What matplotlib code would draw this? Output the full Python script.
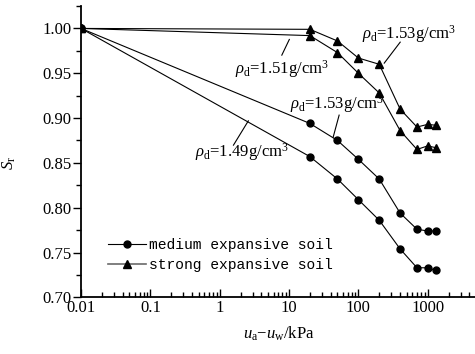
import numpy as np
import matplotlib
matplotlib.use("Agg")
from matplotlib import pyplot as plt
from matplotlib.ticker import LogLocator, FixedLocator, NullFormatter, MultipleLocator

plt.rcParams['font.family'] = ['Liberation Serif', 'DejaVu Serif']
plt.rcParams['mathtext.fontset'] = 'custom'
plt.rcParams['mathtext.rm'] = 'Liberation Serif'
plt.rcParams['mathtext.it'] = 'Liberation Serif:italic'

# suction (kPa)
suction = [0.01, 20, 50, 100, 200, 400, 700, 1000, 1300]

# degree of saturation
medium_149 = [1.00, 0.857, 0.832, 0.809, 0.786, 0.754, 0.733, 0.733, 0.730]
medium_153 = [1.00, 0.894, 0.875, 0.854, 0.832, 0.794, 0.776, 0.774, 0.774]
strong_151 = [1.00, 0.992, 0.973, 0.950, 0.928, 0.886, 0.865, 0.869, 0.867]
strong_153 = [1.00, 0.999, 0.986, 0.967, 0.960, 0.910, 0.890, 0.893, 0.892]

xticks = [0.01, 0.1, 1, 10, 100, 1000]
xticklabels = ["0.01", "0.1", "1", "10", "100", "1000"]

fig = plt.figure(figsize=(4.75, 3.54), dpi=100)
ax = fig.add_axes([0.1705, 0.160, 0.832, 0.823])

lw = 0.8
ms = 5
l1, = ax.plot(suction, medium_149, "-o", color="black", lw=lw, ms=ms, label="medium expansive soil")
ax.plot(suction, medium_153, "-o", color="black", lw=lw, ms=ms)
l2, = ax.plot(suction, strong_151, "-^", color="black", lw=lw, ms=ms + 0.7, label="strong expansive soil")
ax.plot(suction, strong_153, "-^", color="black", lw=lw, ms=ms + 0.7)

ax.set_xscale("log")
ax.set_xlim(0.01, 5000)
ax.set_ylim(0.70, 1.025)

ax.xaxis.set_major_locator(FixedLocator(xticks))
ax.set_xticklabels(xticklabels)
ax.xaxis.set_minor_locator(LogLocator(base=10, subs=np.arange(2, 10)))
ax.xaxis.set_minor_formatter(NullFormatter())
ax.yaxis.set_major_locator(MultipleLocator(0.05))
ax.yaxis.set_minor_locator(MultipleLocator(0.025))
ax.yaxis.set_major_formatter(matplotlib.ticker.FormatStrFormatter("%.2f"))

ax.tick_params(axis="x", which="major", direction="in", length=6, width=1, labelsize=12, pad=2)
ax.tick_params(axis="x", which="minor", direction="in", length=3.5, width=1)
ax.tick_params(axis="y", which="major", direction="out", length=6, width=1, labelsize=12, pad=1)
ax.tick_params(axis="y", which="minor", direction="out", length=3.5, width=1)

ax.spines["top"].set_visible(False)
ax.spines["right"].set_visible(False)
ax.spines["left"].set_linewidth(1.3)
ax.spines["bottom"].set_linewidth(1.3)

ax.set_ylabel(r"$S_{\rm r}$", fontsize=12)
ax.yaxis.set_label_coords(-0.16, 0.46)
ax.set_xlabel(r"$u_{\rm a}$$-$$u_{\rm w}$/kPa", fontsize=12, labelpad=6)

# density labels with leader lines
tsize = 12
ax.text(113, 0.9936, r"$\rho_{\rm d}$=1.53g/cm$^3$", fontsize=tsize, va="center", ha="left")
ax.plot([401, 236], [0.9847, 0.9613], color="black", lw=lw)
ax.text(1.67, 0.9546, r"$\rho_{\rm d}$=1.51g/cm$^3$", fontsize=tsize, va="center", ha="left")
ax.plot([10.1, 7.87], [0.9877, 0.9702], color="black", lw=lw)
ax.text(10.4, 0.9154, r"$\rho_{\rm d}$=1.53g/cm$^3$", fontsize=tsize, va="center", ha="left")
ax.plot([52.8, 43.3], [0.9033, 0.8787], color="black", lw=lw)
ax.text(0.44, 0.862, r"$\rho_{\rm d}$=1.49g/cm$^3$", fontsize=tsize, va="center", ha="left")
ax.plot([2.59, 1.58], [0.8969, 0.8698], color="black", lw=lw)

leg = ax.legend(handles=[l1, l2], loc="upper left", bbox_to_anchor=(0.05, 0.229),
                frameon=False, prop={"family": "Liberation Mono", "size": 10.5},
                handlelength=2.6, handletextpad=0.2, labelspacing=0.45, borderpad=0)
h = leg.legend_handles[1]
h.set_color("dimgray")
h.set_linewidth(1.2)
h.set_markerfacecolor("black")
h.set_markeredgecolor("black")

fig.savefig("out.png", dpi=100)
